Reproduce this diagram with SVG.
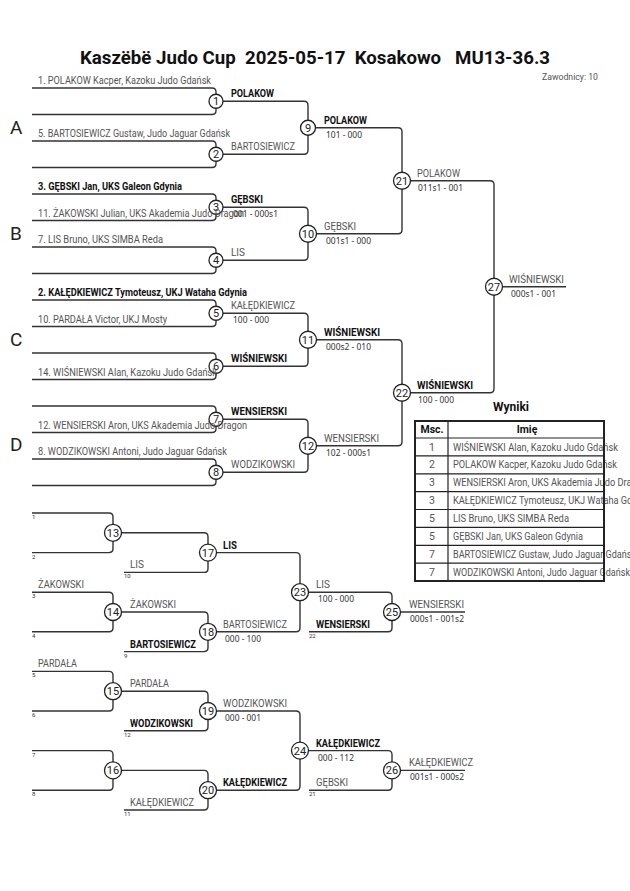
<svg xmlns="http://www.w3.org/2000/svg" width="630" height="891" viewBox="0 0 630 891">
<style>
text{font-family:Roboto,"Liberation Sans",sans-serif}
.ln{fill:none;stroke:#333;stroke-width:1.4}
.nd circle{fill:#fff;stroke:#222;stroke-width:1.3}
.nd text{font-size:11px;fill:#222;text-anchor:middle}
.lb{font-size:10.5px;fill:#555}
.w{font-weight:700;fill:#111}
.sc{font-family:"Noto Sans",Roboto,sans-serif;font-size:8px;fill:#333}
.sl{font-size:6px;fill:#333}
.grp{font-family:"Noto Sans",sans-serif;font-size:19px;fill:#222}
.tb{fill:none;stroke:#222}
.th{font-size:10.5px;font-weight:700;fill:#111;text-anchor:middle}
.tn{font-size:10.5px;fill:#555;text-anchor:middle}
</style>
<rect width="630" height="891" fill="#fff"/>
<g id="header">
<text x="80" y="64" font-size="18" font-weight="700" fill="#111" textLength="470" lengthAdjust="spacingAndGlyphs" xml:space="preserve" style="white-space:pre">Kaszëbë Judo Cup  2025-05-17  Kosakowo   MU13-36.3</text>
<text x="542" y="80" font-size="9.5" fill="#555" textLength="56" lengthAdjust="spacingAndGlyphs">Zawodnicy: 10</text>
</g>
<g id="groups" class="grp">
<text x="10" y="134">A</text>
<text x="10" y="240">B</text>
<text x="10" y="346">C</text>
<text x="10" y="451">D</text>
</g>
<g id="connectors" class="ln">
<path d="M32 88H212Q216 88 216 92V110.5Q216 114.5 212 114.5H32"/>
<path d="M32 141H212Q216 141 216 145V163.5Q216 167.5 212 167.5H32"/>
<path d="M32 194H212Q216 194 216 198V216.5Q216 220.5 212 220.5H32"/>
<path d="M32 247H212Q216 247 216 251V269.5Q216 273.5 212 273.5H32"/>
<path d="M32 300H212Q216 300 216 304V322.5Q216 326.5 212 326.5H32"/>
<path d="M32 353H212Q216 353 216 357V375.5Q216 379.5 212 379.5H32"/>
<path d="M32 406H212Q216 406 216 410V428.5Q216 432.5 212 432.5H32"/>
<path d="M32 459H212Q216 459 216 463V481.5Q216 485.5 212 485.5H32"/>
<path d="M216 101.25H304Q308 101.25 308 105.25V150.25Q308 154.25 304 154.25H216"/>
<path d="M216 207.25H304Q308 207.25 308 211.25V256.25Q308 260.25 304 260.25H216"/>
<path d="M216 313.25H304Q308 313.25 308 317.25V362.25Q308 366.25 304 366.25H216"/>
<path d="M216 419.25H304Q308 419.25 308 423.25V468.25Q308 472.25 304 472.25H216"/>
<path d="M308 127.75H398Q402 127.75 402 131.75V229.75Q402 233.75 398 233.75H308"/>
<path d="M308 339.75H398Q402 339.75 402 343.75V441.75Q402 445.75 398 445.75H308"/>
<path d="M402 180.75H490Q494 180.75 494 184.75V388.75Q494 392.75 490 392.75H402"/>
<path d="M494 286.75H566"/>
<path d="M32 513H109Q113 513 113 517V548.6Q113 552.6 109 552.6H32"/>
<path d="M32 592.2H109Q113 592.2 113 596.2V627.8Q113 631.8 109 631.8H32"/>
<path d="M32 671.4H109Q113 671.4 113 675.4V707Q113 711 109 711H32"/>
<path d="M32 750.6H109Q113 750.6 113 754.6V786.2Q113 790.2 109 790.2H32"/>
<path d="M113 532.8H204Q208 532.8 208 536.8V568.4Q208 572.4 204 572.4H124"/>
<path d="M113 612H204Q208 612 208 616V647.6Q208 651.6 204 651.6H124"/>
<path d="M113 691.2H204Q208 691.2 208 695.2V726.8Q208 730.8 204 730.8H124"/>
<path d="M113 770.4H204Q208 770.4 208 774.4V806Q208 810 204 810H124"/>
<path d="M208 552.6H296Q300 552.6 300 556.6V627.8Q300 631.8 296 631.8H208"/>
<path d="M208 711H296Q300 711 300 715V786.2Q300 790.2 296 790.2H208"/>
<path d="M300 592.2H388Q392 592.2 392 596.2V627.8Q392 631.8 388 631.8H309"/>
<path d="M300 750.6H388Q392 750.6 392 754.6V786.2Q392 790.2 388 790.2H309"/>
<path d="M392 612H465"/>
<path d="M392 770.4H465"/>
</g>
<g id="m1" class="nd"><circle cx="216" cy="101.25" r="7"/><text x="216" y="105.2">1</text></g>
<g id="m2" class="nd"><circle cx="216" cy="154.25" r="7"/><text x="216" y="158.2">2</text></g>
<g id="m3" class="nd"><circle cx="216" cy="207.25" r="7"/><text x="216" y="211.2">3</text></g>
<g id="m4" class="nd"><circle cx="216" cy="260.25" r="7"/><text x="216" y="264.2">4</text></g>
<g id="m5" class="nd"><circle cx="216" cy="313.25" r="7"/><text x="216" y="317.2">5</text></g>
<g id="m6" class="nd"><circle cx="216" cy="366.25" r="7"/><text x="216" y="370.2">6</text></g>
<g id="m7" class="nd"><circle cx="216" cy="419.25" r="7"/><text x="216" y="423.2">7</text></g>
<g id="m8" class="nd"><circle cx="216" cy="472.25" r="7"/><text x="216" y="476.2">8</text></g>
<g id="m9" class="nd"><circle cx="308" cy="127.75" r="7.5"/><text x="308" y="131.7">9</text></g>
<g id="m10" class="nd"><circle cx="308" cy="233.75" r="8.5"/><text x="308" y="237.7">10</text></g>
<g id="m11" class="nd"><circle cx="308" cy="339.75" r="8.5"/><text x="308" y="343.7">11</text></g>
<g id="m12" class="nd"><circle cx="308" cy="445.75" r="8.5"/><text x="308" y="449.7">12</text></g>
<g id="m21" class="nd"><circle cx="402" cy="180.75" r="8.5"/><text x="402" y="184.7">21</text></g>
<g id="m22" class="nd"><circle cx="402" cy="392.75" r="8.5"/><text x="402" y="396.7">22</text></g>
<g id="m27" class="nd"><circle cx="494" cy="286.75" r="8.5"/><text x="494" y="290.7">27</text></g>
<g id="m13" class="nd"><circle cx="113" cy="532.8" r="8.5"/><text x="113" y="536.8">13</text></g>
<g id="m14" class="nd"><circle cx="113" cy="612" r="8.5"/><text x="113" y="616">14</text></g>
<g id="m15" class="nd"><circle cx="113" cy="691.2" r="8.5"/><text x="113" y="695.2">15</text></g>
<g id="m16" class="nd"><circle cx="113" cy="770.4" r="8.5"/><text x="113" y="774.4">16</text></g>
<g id="m17" class="nd"><circle cx="208" cy="552.6" r="8.5"/><text x="208" y="556.6">17</text></g>
<g id="m18" class="nd"><circle cx="208" cy="631.8" r="8.5"/><text x="208" y="635.8">18</text></g>
<g id="m19" class="nd"><circle cx="208" cy="711" r="8.5"/><text x="208" y="715">19</text></g>
<g id="m20" class="nd"><circle cx="208" cy="790.2" r="8.5"/><text x="208" y="794.2">20</text></g>
<g id="m23" class="nd"><circle cx="300" cy="592.2" r="8.5"/><text x="300" y="596.2">23</text></g>
<g id="m24" class="nd"><circle cx="300" cy="750.6" r="8.5"/><text x="300" y="754.6">24</text></g>
<g id="m25" class="nd"><circle cx="392" cy="612" r="8.5"/><text x="392" y="616">25</text></g>
<g id="m26" class="nd"><circle cx="392" cy="770.4" r="8.5"/><text x="392" y="774.4">26</text></g>
<g id="labels-main" lengthAdjust="spacingAndGlyphs">
<text class="lb" x="38" y="84" textLength="173" lengthAdjust="spacingAndGlyphs">1. POLAKOW Kacper, Kazoku Judo Gdańsk</text>
<text class="lb" x="38" y="137" textLength="192" lengthAdjust="spacingAndGlyphs">5. BARTOSIEWICZ Gustaw, Judo Jaguar Gdańsk</text>
<text class="lb w" x="38" y="190" textLength="144" lengthAdjust="spacingAndGlyphs">3. GĘBSKI Jan, UKS Galeon Gdynia</text>
<text class="lb" x="38" y="216.5" textLength="206" lengthAdjust="spacingAndGlyphs">11. ŻAKOWSKI Julian, UKS Akademia Judo Dragon</text>
<text class="lb" x="38" y="243" textLength="125" lengthAdjust="spacingAndGlyphs">7. LIS Bruno, UKS SIMBA Reda</text>
<text class="lb w" x="38" y="296" textLength="209" lengthAdjust="spacingAndGlyphs">2. KAŁĘDKIEWICZ Tymoteusz, UKJ Wataha Gdynia</text>
<text class="lb" x="38" y="322.5" textLength="129" lengthAdjust="spacingAndGlyphs">10. PARDAŁA Victor, UKJ Mosty</text>
<text class="lb" x="38" y="375.5" textLength="179" lengthAdjust="spacingAndGlyphs">14. WIŚNIEWSKI Alan, Kazoku Judo Gdańsk</text>
<text class="lb" x="38" y="428.5" textLength="209" lengthAdjust="spacingAndGlyphs">12. WENSIERSKI Aron, UKS Akademia Judo Dragon</text>
<text class="lb" x="38" y="455" textLength="189" lengthAdjust="spacingAndGlyphs">8. WODZIKOWSKI Antoni, Judo Jaguar Gdańsk</text>
<text class="lb w" x="231" y="97.25" textLength="43" lengthAdjust="spacingAndGlyphs">POLAKOW</text>
<text class="lb" x="231" y="150.25" textLength="64" lengthAdjust="spacingAndGlyphs">BARTOSIEWICZ</text>
<text class="lb w" x="231" y="203.25" textLength="32" lengthAdjust="spacingAndGlyphs">GĘBSKI</text>
<text class="sc" x="233" y="217.25" textLength="45" lengthAdjust="spacingAndGlyphs">001 - 000s1</text>
<text class="lb" x="231" y="256.25" textLength="14" lengthAdjust="spacingAndGlyphs">LIS</text>
<text class="lb" x="231" y="309.25" textLength="64" lengthAdjust="spacingAndGlyphs">KAŁĘDKIEWICZ</text>
<text class="sc" x="233" y="323.25" textLength="36" lengthAdjust="spacingAndGlyphs">100 - 000</text>
<text class="lb w" x="231" y="362.25" textLength="56" lengthAdjust="spacingAndGlyphs">WIŚNIEWSKI</text>
<text class="lb w" x="231" y="415.25" textLength="56" lengthAdjust="spacingAndGlyphs">WENSIERSKI</text>
<text class="lb" x="231" y="468.25" textLength="64" lengthAdjust="spacingAndGlyphs">WODZIKOWSKI</text>
<text class="lb w" x="324" y="123.75" textLength="43" lengthAdjust="spacingAndGlyphs">POLAKOW</text>
<text class="sc" x="326" y="137.75" textLength="36" lengthAdjust="spacingAndGlyphs">101 - 000</text>
<text class="lb" x="324" y="229.75" textLength="32" lengthAdjust="spacingAndGlyphs">GĘBSKI</text>
<text class="sc" x="326" y="243.75" textLength="45" lengthAdjust="spacingAndGlyphs">001s1 - 000</text>
<text class="lb w" x="324" y="335.75" textLength="56" lengthAdjust="spacingAndGlyphs">WIŚNIEWSKI</text>
<text class="sc" x="326" y="349.75" textLength="45" lengthAdjust="spacingAndGlyphs">000s2 - 010</text>
<text class="lb" x="324" y="441.75" textLength="55" lengthAdjust="spacingAndGlyphs">WENSIERSKI</text>
<text class="sc" x="326" y="455.75" textLength="45" lengthAdjust="spacingAndGlyphs">102 - 000s1</text>
<text class="lb" x="417" y="176.75" textLength="43" lengthAdjust="spacingAndGlyphs">POLAKOW</text>
<text class="sc" x="418" y="190.75" textLength="45" lengthAdjust="spacingAndGlyphs">011s1 - 001</text>
<text class="lb w" x="417" y="388.75" textLength="56" lengthAdjust="spacingAndGlyphs">WIŚNIEWSKI</text>
<text class="sc" x="418" y="402.75" textLength="36" lengthAdjust="spacingAndGlyphs">100 - 000</text>
<text class="lb" x="509" y="282.75" textLength="55" lengthAdjust="spacingAndGlyphs">WIŚNIEWSKI</text>
<text class="sc" x="511" y="296.75" textLength="45" lengthAdjust="spacingAndGlyphs">000s1 - 001</text>
</g>
<g id="labels-repechage">
<text class="sl" x="32" y="519">1</text>
<text class="sl" x="32" y="558.6">2</text>
<text class="sl" x="32" y="598.2">3</text>
<text class="sl" x="32" y="637.8">4</text>
<text class="sl" x="32" y="677.4">5</text>
<text class="sl" x="32" y="717">6</text>
<text class="sl" x="32" y="756.6">7</text>
<text class="sl" x="32" y="796.2">8</text>
<text class="sl" x="124" y="578.4">10</text>
<text class="sl" x="124" y="657.6">9</text>
<text class="sl" x="124" y="736.8">12</text>
<text class="sl" x="124" y="816">11</text>
<text class="sl" x="309" y="637.8">22</text>
<text class="sl" x="309" y="796.2">21</text>
<text class="lb" x="38" y="588.2" textLength="46" lengthAdjust="spacingAndGlyphs">ŻAKOWSKI</text>
<text class="lb" x="38" y="667.4" textLength="39" lengthAdjust="spacingAndGlyphs">PARDAŁA</text>
<text class="lb" x="130" y="568.4" textLength="14" lengthAdjust="spacingAndGlyphs">LIS</text>
<text class="lb w" x="223" y="548.6" textLength="14" lengthAdjust="spacingAndGlyphs">LIS</text>
<text class="lb" x="130" y="608" textLength="46" lengthAdjust="spacingAndGlyphs">ŻAKOWSKI</text>
<text class="lb w" x="130" y="647.6" textLength="66" lengthAdjust="spacingAndGlyphs">BARTOSIEWICZ</text>
<text class="lb" x="223" y="627.8" textLength="64" lengthAdjust="spacingAndGlyphs">BARTOSIEWICZ</text>
<text class="sc" x="225" y="641.8" textLength="36" lengthAdjust="spacingAndGlyphs">000 - 100</text>
<text class="lb" x="316" y="588.2" textLength="14" lengthAdjust="spacingAndGlyphs">LIS</text>
<text class="sc" x="318" y="602.2" textLength="36" lengthAdjust="spacingAndGlyphs">100 - 000</text>
<text class="lb w" x="316" y="627.8" textLength="54" lengthAdjust="spacingAndGlyphs">WENSIERSKI</text>
<text class="lb" x="409" y="608" textLength="55" lengthAdjust="spacingAndGlyphs">WENSIERSKI</text>
<text class="sc" x="410" y="622" textLength="54" lengthAdjust="spacingAndGlyphs">000s1 - 001s2</text>
<text class="lb" x="130" y="687.2" textLength="39" lengthAdjust="spacingAndGlyphs">PARDAŁA</text>
<text class="lb w" x="130" y="726.8" textLength="63" lengthAdjust="spacingAndGlyphs">WODZIKOWSKI</text>
<text class="lb" x="223" y="707" textLength="64" lengthAdjust="spacingAndGlyphs">WODZIKOWSKI</text>
<text class="sc" x="225" y="721" textLength="36" lengthAdjust="spacingAndGlyphs">000 - 001</text>
<text class="lb" x="130" y="806" textLength="64" lengthAdjust="spacingAndGlyphs">KAŁĘDKIEWICZ</text>
<text class="lb w" x="223" y="786.2" textLength="64" lengthAdjust="spacingAndGlyphs">KAŁĘDKIEWICZ</text>
<text class="lb w" x="316" y="746.6" textLength="64" lengthAdjust="spacingAndGlyphs">KAŁĘDKIEWICZ</text>
<text class="sc" x="318" y="760.6" textLength="36" lengthAdjust="spacingAndGlyphs">000 - 112</text>
<text class="lb" x="316" y="786.2" textLength="32" lengthAdjust="spacingAndGlyphs">GĘBSKI</text>
<text class="lb" x="409" y="766.4" textLength="64" lengthAdjust="spacingAndGlyphs">KAŁĘDKIEWICZ</text>
<text class="sc" x="410" y="780.4" textLength="54" lengthAdjust="spacingAndGlyphs">001s1 - 000s2</text>
</g>
<g id="results">
<text x="511" y="411" font-size="12" font-weight="700" fill="#111" text-anchor="middle">Wyniki</text>
<text class="th" x="432" y="433">Msc.</text>
<text class="th" x="527" y="433">Imię</text>
<text class="tn" x="432" y="450.5">1</text>
<text class="tn" x="432" y="468.4">2</text>
<text class="tn" x="432" y="486.3">3</text>
<text class="tn" x="432" y="504.1">3</text>
<text class="tn" x="432" y="522">5</text>
<text class="tn" x="432" y="539.9">5</text>
<text class="tn" x="432" y="557.8">7</text>
<text class="tn" x="432" y="575.6">7</text>
<text class="lb" x="453" y="450.5" textLength="165" lengthAdjust="spacingAndGlyphs">WIŚNIEWSKI Alan, Kazoku Judo Gdańsk</text>
<text class="lb" x="453" y="468.4" textLength="164" lengthAdjust="spacingAndGlyphs">POLAKOW Kacper, Kazoku Judo Gdańsk</text>
<text class="lb" x="453" y="486.3" textLength="194" lengthAdjust="spacingAndGlyphs">WENSIERSKI Aron, UKS Akademia Judo Dragon</text>
<text class="lb" x="453" y="504.1" textLength="196" lengthAdjust="spacingAndGlyphs">KAŁĘDKIEWICZ Tymoteusz, UKJ Wataha Gdynia</text>
<text class="lb" x="453" y="522" textLength="116" lengthAdjust="spacingAndGlyphs">LIS Bruno, UKS SIMBA Reda</text>
<text class="lb" x="453" y="539.9" textLength="130" lengthAdjust="spacingAndGlyphs">GĘBSKI Jan, UKS Galeon Gdynia</text>
<text class="lb" x="453" y="557.8" textLength="183" lengthAdjust="spacingAndGlyphs">BARTOSIEWICZ Gustaw, Judo Jaguar Gdańsk</text>
<text class="lb" x="453" y="575.6" textLength="177" lengthAdjust="spacingAndGlyphs">WODZIKOWSKI Antoni, Judo Jaguar Gdańsk</text>
<g class="tb" stroke-width="1.2">
<path d="M415 438H604M415 455.9H604M415 473.8H604M415 491.6H604M415 509.5H604M415 527.4H604M415 545.3H604M415 563.1H604M448 421V581"/>
</g>
<rect class="tb" x="415" y="421" width="189" height="160" stroke-width="2"/>
</g>
</svg>
